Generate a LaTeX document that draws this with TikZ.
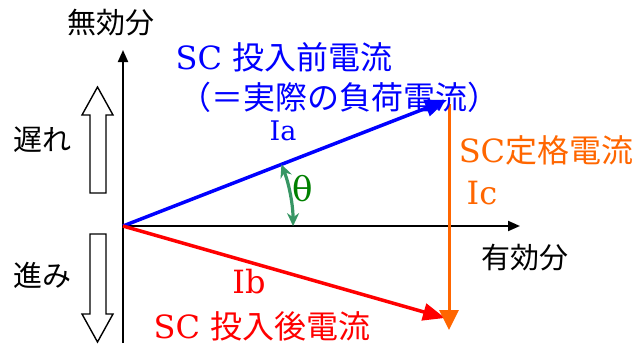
\documentclass[tikz,border=0pt]{standalone}
\usepackage{fontspec}
\setmainfont{DejaVu Serif}
\newfontfamily\jpfont{Noto Sans CJK JP}
\usetikzlibrary{arrows.meta,calc}
\definecolor{vecblue}{RGB}{0,0,255}
\definecolor{vecred}{RGB}{255,0,0}
\definecolor{scorange}{RGB}{255,102,0}
\definecolor{arcgreen}{RGB}{55,150,100}
\definecolor{thgreen}{RGB}{0,128,0}

\begin{document}
\begin{tikzpicture}[x=1pt,y=-1pt,
    axis/.style={line width=2pt,-{Triangle[length=12pt,width=10pt]}},
    vec/.style={line width=3.5pt,-{Triangle[length=22pt,width=17pt]}},
    hollow/.style={draw=black,line width=1.4pt,fill=white,line join=miter},
    axlbl/.style={inner sep=0pt,font=\fontsize{29}{32}\selectfont\jpfont},
    biglbl/.style={inner sep=0pt,font=\fontsize{32}{36}\selectfont}]
  \useasboundingbox (0,0) rectangle (639,345);

  % axes
  \coordinate (O) at (123,226);
  \coordinate (xend) at (520,226);
  \coordinate (ytop) at (123,50);
  \coordinate (ybot) at (123,343);
  \draw[axis] (ybot) -- (ytop);
  \draw[axis] (O) -- (xend);
  \node[axlbl] (qaxis) at (111,23) {無効分};
  \node[axlbl] (paxis) at (525,258) {有効分};

  % lag / lead
  \draw[hollow] (90,193) -- (90,115) -- (82,115) -- (97.5,87) -- (113,115)
    -- (106,115) -- (106,193) -- cycle;
  \draw[hollow] (90,234) -- (90,314) -- (82,314) -- (97.5,342) -- (113,314)
    -- (106,314) -- (106,234) -- cycle;
  \node[axlbl] (lag) at (42,140) {遅れ};
  \node[axlbl] (lead) at (42,275) {進み};

  % vectors
  \coordinate (Ia) at (447,100);
  \coordinate (Ib) at (445,318);
  \coordinate (Ctop) at (449,104);
  \coordinate (Cbot) at (449,330);
  \draw[vec,vecblue] (O) -- (Ia);
  \draw[vec,vecred] (O) -- (Ib);
  \draw[line width=3pt,scorange,-{Triangle[length=20pt,width=19pt]}] (Ctop) -- (Cbot);

  % angle
  \coordinate (T) at ($(O)!170pt!(Ia)$);
  \draw[arcgreen,line width=3.2pt,{Stealth[length=13pt,width=12pt]}-{Stealth[length=13pt,width=12pt]}]
    (T) arc[start angle=-21.3,end angle=0,radius=170];
  \node[inner sep=0pt,font=\fontsize{34}{38}\selectfont,thgreen] (th) at (303,189) {θ};

  % labels
  \node[biglbl,vecblue] (pre1) at (284,57) {SC {\jpfont 投入前電流}};
  \node[biglbl,vecblue] (pre2) at (339,97) {\jpfont （＝実際の負荷電流）};
  \node[inner sep=0pt,font=\fontsize{27}{30}\selectfont,vecblue] (lIa) at (283,131) {Ia};
  \node[biglbl,vecred] (lIb) at (249,282) {Ib};
  \node[biglbl,vecred] (post) at (262,326) {SC {\jpfont 投入後電流}};
  \node[biglbl,scorange] (rated) at (546,150) {SC{\jpfont 定格電流}};
  \node[biglbl,scorange] (lIc) at (482,193) {Ic};
\end{tikzpicture}
\end{document}
